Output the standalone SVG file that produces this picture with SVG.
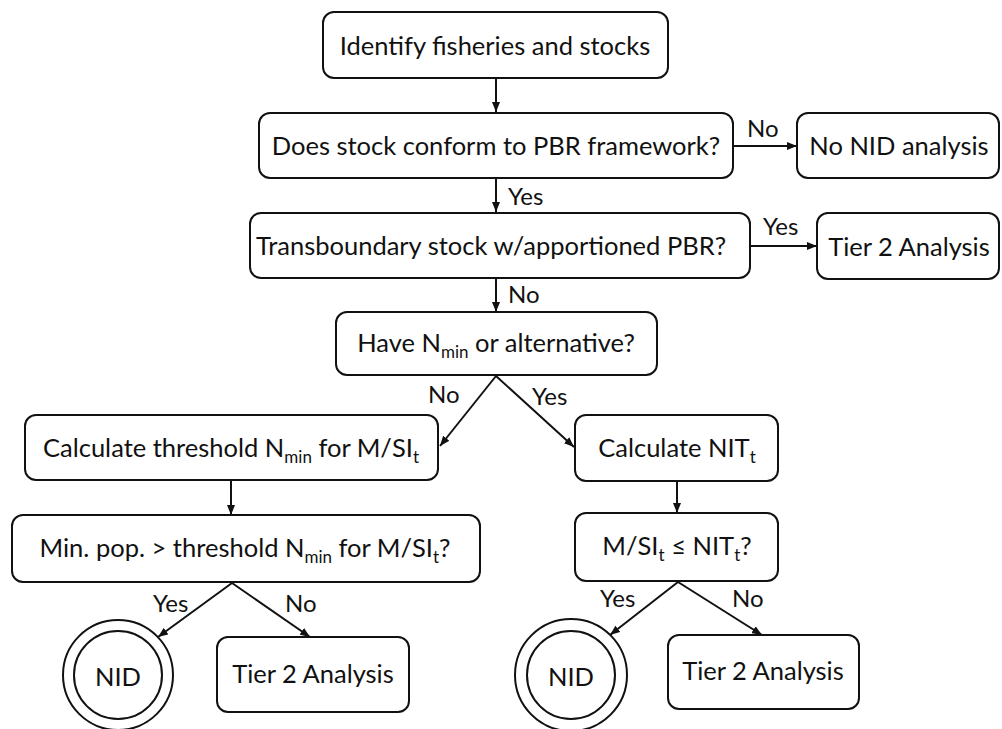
<svg xmlns="http://www.w3.org/2000/svg" width="1002" height="729" viewBox="0 0 1002 729">
  <defs>
    <marker id="arrow" markerUnits="userSpaceOnUse" markerWidth="10" markerHeight="8" refX="10" refY="4" orient="auto">
      <path d="M0,0 L10,4 L0,8 z" fill="#111"/>
    </marker>
    <style>
      .box { fill: #fff; stroke: #111; stroke-width: 2; }
      .ring { fill: #fff; stroke: #111; stroke-width: 2; }
      .lbl { font-family: Lato, "Liberation Sans", sans-serif; font-size: 25.5px; fill: #111; text-anchor: middle; }
      .edge { font-family: Lato, "Liberation Sans", sans-serif; font-size: 24px; fill: #111; }
      .sub { font-size: 17px; }
      .conn line { stroke: #111; stroke-width: 2; marker-end: url(#arrow); }
    </style>
  </defs>
  <rect width="1002" height="729" fill="#fff"/>

  <!-- connectors -->
  <g id="connectors" class="conn">
    <line x1="496" y1="78" x2="496" y2="112"/>
    <line x1="733" y1="146" x2="797" y2="146"/>
    <line x1="496" y1="178" x2="496" y2="212"/>
    <line x1="750" y1="246" x2="817" y2="246"/>
    <line x1="496" y1="278" x2="496" y2="312"/>
    <line x1="496" y1="376" x2="440" y2="446"/>
    <line x1="496" y1="376" x2="574" y2="447"/>
    <line x1="231" y1="480" x2="231" y2="515"/>
    <line x1="677" y1="481" x2="677" y2="513"/>
    <line x1="232" y1="583" x2="158" y2="637"/>
    <line x1="232" y1="583" x2="310" y2="637"/>
    <line x1="678" y1="582" x2="610" y2="635"/>
    <line x1="678" y1="582" x2="762" y2="635"/>
  </g>

  <!-- connector labels -->
  <g id="edge-labels" class="edge">
    <text x="747" y="137">No</text>
    <text x="508" y="205">Yes</text>
    <text x="763" y="235">Yes</text>
    <text x="508" y="303">No</text>
    <text x="428" y="403">No</text>
    <text x="532" y="405">Yes</text>
    <text x="153" y="612">Yes</text>
    <text x="285" y="612">No</text>
    <text x="600" y="607">Yes</text>
    <text x="732" y="607">No</text>
  </g>

  <g id="identify">
    <rect class="box" x="323" y="12" width="345" height="66" rx="11"/>
    <text class="lbl" x="495" y="55">Identify fisheries and stocks</text>
  </g>

  <g id="conform">
    <rect class="box" x="259" y="113" width="474" height="65" rx="11"/>
    <text class="lbl" x="496" y="155">Does stock conform to PBR framework?</text>
  </g>

  <g id="no-nid">
    <rect class="box" x="797" y="113" width="202" height="65" rx="11"/>
    <text class="lbl" x="899" y="155">No NID analysis</text>
  </g>

  <g id="transboundary">
    <rect class="box" x="250" y="213" width="500" height="65" rx="11"/>
    <text class="lbl" x="491" y="255">Transboundary stock w/apportioned PBR?</text>
  </g>

  <g id="tier2-top">
    <rect class="box" x="817" y="213" width="182" height="66" rx="11"/>
    <text class="lbl" x="909" y="256">Tier 2 Analysis</text>
  </g>

  <g id="have-nmin">
    <rect class="box" x="336" y="312" width="321" height="63" rx="11"/>
    <text class="lbl" x="496" y="352">Have N<tspan class="sub" dy="6">min</tspan><tspan dy="-6"> or alternative?</tspan></text>
  </g>

  <g id="calc-threshold">
    <rect class="box" x="25" y="415" width="413" height="65" rx="11"/>
    <text class="lbl" x="231" y="457">Calculate threshold N<tspan class="sub" dy="6">min</tspan><tspan dy="-6"> for M/SI</tspan><tspan class="sub" dy="6">t</tspan></text>
  </g>

  <g id="calc-nit">
    <rect class="box" x="575" y="415" width="203" height="66" rx="11"/>
    <text class="lbl" x="677" y="457">Calculate NIT<tspan class="sub" dy="6">t</tspan></text>
  </g>

  <g id="min-pop">
    <rect class="box" x="12" y="515" width="468" height="67" rx="11"/>
    <text class="lbl" x="245" y="557">Min. pop. &gt; threshold N<tspan class="sub" dy="6">min</tspan><tspan dy="-6"> for M/SI</tspan><tspan class="sub" dy="6">t</tspan><tspan dy="-6">?</tspan></text>
  </g>

  <g id="msi-nit">
    <rect class="box" x="575" y="513" width="203" height="68" rx="11"/>
    <text class="lbl" x="677" y="555">M/SI<tspan class="sub" dy="6">t</tspan><tspan dy="-6"> ≤ NIT</tspan><tspan class="sub" dy="6">t</tspan><tspan dy="-6">?</tspan></text>
  </g>

  <g id="nid-left">
    <circle class="ring" cx="118" cy="675" r="55"/>
    <circle class="ring" cx="118" cy="675" r="44"/>
    <text class="lbl" x="118" y="686">NID</text>
  </g>

  <g id="tier2-left">
    <rect class="box" x="217" y="637" width="192" height="75" rx="11"/>
    <text class="lbl" x="313" y="683">Tier 2 Analysis</text>
  </g>

  <g id="nid-right">
    <circle class="ring" cx="571" cy="675" r="56"/>
    <circle class="ring" cx="571" cy="675" r="44"/>
    <text class="lbl" x="571" y="686">NID</text>
  </g>

  <g id="tier2-right">
    <rect class="box" x="668" y="635" width="191" height="74" rx="11"/>
    <text class="lbl" x="763" y="680">Tier 2 Analysis</text>
  </g>
</svg>
